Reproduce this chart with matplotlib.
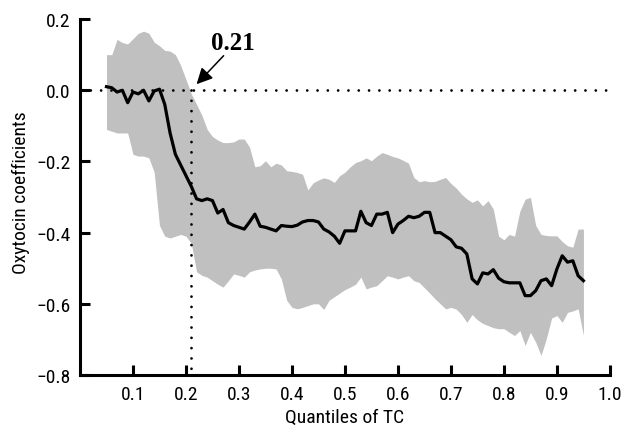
import numpy as np
import matplotlib
matplotlib.use("Agg")
import matplotlib.pyplot as plt
from matplotlib.ticker import FuncFormatter

plt.rcParams['font.family'] = ['Roboto Condensed', 'Archivo Narrow', 'PT Sans Narrow',
                               'Liberation Sans Narrow', 'DejaVu Sans']

# quantiles of TC
quantiles = np.round(np.arange(0.05, 0.951, 0.01), 2)

# oxytocin coefficient estimate
coef = [0.01, 0.007, -0.005, 0.0, -0.035, -0.005, -0.01, 0.0, -0.03, -0.002,
        0.003, -0.04, -0.12, -0.18, -0.21, -0.24, -0.27, -0.305, -0.31, -0.305,
        -0.31, -0.345, -0.335, -0.372, -0.38, -0.385, -0.39, -0.37, -0.348, -0.382,
        -0.385, -0.39, -0.395, -0.38, -0.382, -0.383, -0.379, -0.37, -0.366, -0.366,
        -0.37, -0.39, -0.398, -0.41, -0.43, -0.395, -0.395, -0.395, -0.34, -0.372,
        -0.38, -0.348, -0.348, -0.343, -0.40, -0.376, -0.366, -0.354, -0.358, -0.354,
        -0.343, -0.343, -0.40, -0.40, -0.41, -0.42, -0.44, -0.444, -0.46, -0.53,
        -0.544, -0.513, -0.516, -0.504, -0.528, -0.538, -0.541, -0.541, -0.541, -0.577,
        -0.577, -0.563, -0.535, -0.53, -0.549, -0.502, -0.465, -0.483, -0.479, -0.521,
        -0.535]

# confidence band
upper = [0.10, 0.10, 0.143, 0.134, 0.13, 0.145, 0.16, 0.166, 0.16, 0.135,
         0.125, 0.112, 0.11, 0.10, 0.07, 0.03, -0.01, -0.04, -0.07, -0.11,
         -0.13, -0.14, -0.147, -0.147, -0.145, -0.137, -0.137, -0.16, -0.215, -0.212,
         -0.198, -0.215, -0.205, -0.21, -0.226, -0.228, -0.231, -0.236, -0.28, -0.26,
         -0.252, -0.246, -0.25, -0.259, -0.24, -0.23, -0.215, -0.203, -0.198, -0.19,
         -0.198, -0.185, -0.175, -0.18, -0.186, -0.19, -0.197, -0.205, -0.245, -0.257,
         -0.254, -0.257, -0.256, -0.25, -0.245, -0.262, -0.275, -0.292, -0.305, -0.315,
         -0.308, -0.325, -0.31, -0.334, -0.41, -0.42, -0.405, -0.41, -0.34, -0.306,
         -0.301, -0.38, -0.405, -0.408, -0.409, -0.409, -0.425, -0.437, -0.441, -0.39,
         -0.39]
lower = [-0.11, -0.115, -0.12, -0.12, -0.12, -0.18, -0.185, -0.185, -0.19, -0.23,
         -0.38, -0.41, -0.415, -0.41, -0.405, -0.41, -0.43, -0.51, -0.52, -0.525,
         -0.535, -0.545, -0.553, -0.535, -0.516, -0.52, -0.525, -0.51, -0.505, -0.502,
         -0.50, -0.50, -0.502, -0.53, -0.59, -0.61, -0.614, -0.61, -0.605, -0.60,
         -0.60, -0.616, -0.59, -0.58, -0.57, -0.56, -0.553, -0.545, -0.525, -0.558,
         -0.553, -0.549, -0.535, -0.521, -0.525, -0.53, -0.525, -0.521, -0.535, -0.54,
         -0.555, -0.57, -0.586, -0.60, -0.614, -0.61, -0.615, -0.63, -0.652, -0.63,
         -0.645, -0.655, -0.661, -0.667, -0.67, -0.67, -0.68, -0.689, -0.675, -0.717,
         -0.68, -0.708, -0.745, -0.698, -0.64, -0.633, -0.652, -0.624, -0.62, -0.614,
         -0.689]

threshold = 0.21

fig = plt.figure(figsize=(6.23, 4.27), dpi=100)
ax = fig.add_axes([0.1284, 0.1194, 0.8506, 0.8336])

ax.fill_between(quantiles, lower, upper, color='#c0c0c0', linewidth=0)
ax.plot(quantiles, coef, color='black', linewidth=2.3)

dots = (0, (0.01, 3.7))
ax.plot([0, 1], [0, 0], color='black', linewidth=2, linestyle=dots,
        dash_capstyle='round')
ax.plot([threshold, threshold], [0, -0.8], color='black', linewidth=2,
        linestyle=dots, dash_capstyle='round')

ax.text(0.289, 0.135, '0.21', ha='center', va='center', fontsize=18,
        fontweight='bold', family=['Liberation Serif', 'DejaVu Serif'])
ax.annotate('', xy=(0.220, 0.017), xytext=(0.271, 0.097),
            arrowprops=dict(arrowstyle='-|>', color='black', lw=1.1,
                            mutation_scale=24, shrinkA=0, shrinkB=0))

ax.set_xlim(0, 1)
ax.set_ylim(-0.8, 0.2)
ax.set_xticks([0.1, 0.2, 0.3, 0.4, 0.5, 0.6, 0.7, 0.8, 0.9, 1.0])
ax.set_yticks([0.2, 0.0, -0.2, -0.4, -0.6, -0.8])
ax.yaxis.set_major_formatter(FuncFormatter(lambda v, p: f'{v:.1f}'.replace('-', '\u2212')))
ax.xaxis.set_major_formatter(FuncFormatter(lambda v, p: f'{v:.1f}'))

for side in ['top', 'right']:
    ax.spines[side].set_visible(False)
for side in ['left', 'bottom']:
    ax.spines[side].set_linewidth(2.2)

ax.tick_params(direction='in', length=7, width=2.2, labelsize=14, pad=7)
ax.set_xlabel('Quantiles of TC', fontsize=14, labelpad=4)
ax.set_ylabel('Oxytocin coefficients', fontsize=14)
ax.yaxis.set_label_coords(-0.094, 0.515)

fig.savefig('out.png', dpi=100)
